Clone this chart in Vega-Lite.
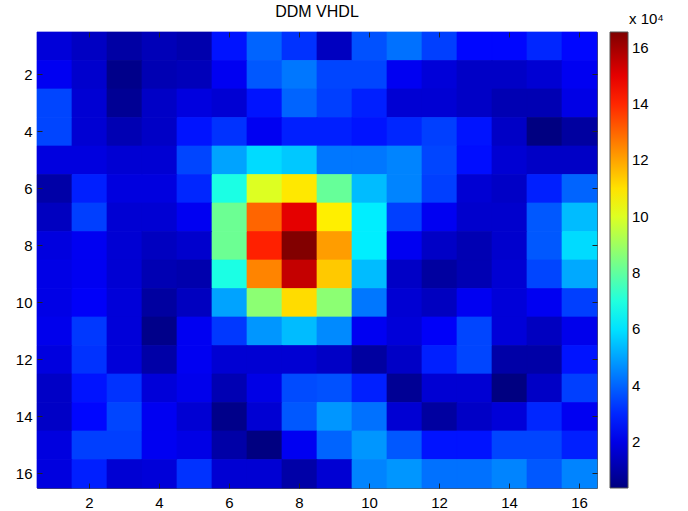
{
"$schema": "https://vega.github.io/schema/vega-lite/v6.json",
"width": 560, "height": 456,
"autosize": {"type": "none"},
"padding": {"left": 37, "top": 32, "right": 91, "bottom": 23},
"background": "white",
"title": {"text": "DDM VHDL", "fontSize": 16, "fontWeight": "normal", "font": "Liberation Sans", "color": "#000000", "offset": 0, "frame": "group", "anchor": "middle", "dy": 8},
"config": {"view": {"stroke": "#555555", "strokeWidth": 1}},
"data": {"values": [
{"r":1,"c":1,"v":18000},{"r":1,"c":2,"v":14500},{"r":1,"c":3,"v":9500},{"r":1,"c":4,"v":12800},{"r":1,"c":5,"v":11000},{"r":1,"c":6,"v":27000},{"r":1,"c":7,"v":40000},{"r":1,"c":8,"v":32000},{"r":1,"c":9,"v":14000},{"r":1,"c":10,"v":37000},{"r":1,"c":11,"v":42000},{"r":1,"c":12,"v":34000},{"r":1,"c":13,"v":25000},{"r":1,"c":14,"v":25000},{"r":1,"c":15,"v":30000},{"r":1,"c":16,"v":25000},
{"r":2,"c":1,"v":22000},{"r":2,"c":2,"v":16000},{"r":2,"c":3,"v":5500},{"r":2,"c":4,"v":12000},{"r":2,"c":5,"v":13000},{"r":2,"c":6,"v":22000},{"r":2,"c":7,"v":38000},{"r":2,"c":8,"v":43000},{"r":2,"c":9,"v":35000},{"r":2,"c":10,"v":35000},{"r":2,"c":11,"v":22000},{"r":2,"c":12,"v":18000},{"r":2,"c":13,"v":15000},{"r":2,"c":14,"v":15000},{"r":2,"c":15,"v":17000},{"r":2,"c":16,"v":22000},
{"r":3,"c":1,"v":35000},{"r":3,"c":2,"v":17000},{"r":3,"c":3,"v":7000},{"r":3,"c":4,"v":15000},{"r":3,"c":5,"v":19000},{"r":3,"c":6,"v":17000},{"r":3,"c":7,"v":27000},{"r":3,"c":8,"v":40000},{"r":3,"c":9,"v":34000},{"r":3,"c":10,"v":29000},{"r":3,"c":11,"v":17000},{"r":3,"c":12,"v":17000},{"r":3,"c":13,"v":15000},{"r":3,"c":14,"v":12000},{"r":3,"c":15,"v":12000},{"r":3,"c":16,"v":20000},
{"r":4,"c":1,"v":35000},{"r":4,"c":2,"v":17000},{"r":4,"c":3,"v":12000},{"r":4,"c":4,"v":15000},{"r":4,"c":5,"v":27000},{"r":4,"c":6,"v":32000},{"r":4,"c":7,"v":22000},{"r":4,"c":8,"v":29000},{"r":4,"c":9,"v":29000},{"r":4,"c":10,"v":27000},{"r":4,"c":11,"v":30000},{"r":4,"c":12,"v":34000},{"r":4,"c":13,"v":27000},{"r":4,"c":14,"v":15000},{"r":4,"c":15,"v":4000},{"r":4,"c":16,"v":9000},
{"r":5,"c":1,"v":19000},{"r":5,"c":2,"v":19000},{"r":5,"c":3,"v":17000},{"r":5,"c":4,"v":17000},{"r":5,"c":5,"v":35000},{"r":5,"c":6,"v":50000},{"r":5,"c":7,"v":59000},{"r":5,"c":8,"v":56000},{"r":5,"c":9,"v":43000},{"r":5,"c":10,"v":43000},{"r":5,"c":11,"v":45000},{"r":5,"c":12,"v":35000},{"r":5,"c":13,"v":26000},{"r":5,"c":14,"v":17000},{"r":5,"c":15,"v":15000},{"r":5,"c":16,"v":15000},
{"r":6,"c":1,"v":10000},{"r":6,"c":2,"v":29000},{"r":6,"c":3,"v":19000},{"r":6,"c":4,"v":19000},{"r":6,"c":5,"v":30000},{"r":6,"c":6,"v":69000},{"r":6,"c":7,"v":100000},{"r":6,"c":8,"v":109000},{"r":6,"c":9,"v":81000},{"r":6,"c":10,"v":54000},{"r":6,"c":11,"v":45000},{"r":6,"c":12,"v":34000},{"r":6,"c":13,"v":17000},{"r":6,"c":14,"v":15000},{"r":6,"c":15,"v":29000},{"r":6,"c":16,"v":40000},
{"r":7,"c":1,"v":14000},{"r":7,"c":2,"v":34000},{"r":7,"c":3,"v":17000},{"r":7,"c":4,"v":17000},{"r":7,"c":5,"v":22000},{"r":7,"c":6,"v":82000},{"r":7,"c":7,"v":130000},{"r":7,"c":8,"v":150000},{"r":7,"c":9,"v":108000},{"r":7,"c":10,"v":62000},{"r":7,"c":11,"v":34000},{"r":7,"c":12,"v":22000},{"r":7,"c":13,"v":16000},{"r":7,"c":14,"v":16000},{"r":7,"c":15,"v":38000},{"r":7,"c":16,"v":54000},
{"r":8,"c":1,"v":19000},{"r":8,"c":2,"v":22000},{"r":8,"c":3,"v":17000},{"r":8,"c":4,"v":14000},{"r":8,"c":5,"v":16000},{"r":8,"c":6,"v":82000},{"r":8,"c":7,"v":141000},{"r":8,"c":8,"v":165000},{"r":8,"c":9,"v":121000},{"r":8,"c":10,"v":62000},{"r":8,"c":11,"v":22000},{"r":8,"c":12,"v":15000},{"r":8,"c":13,"v":12000},{"r":8,"c":14,"v":16000},{"r":8,"c":15,"v":38000},{"r":8,"c":16,"v":59000},
{"r":9,"c":1,"v":20000},{"r":9,"c":2,"v":22000},{"r":9,"c":3,"v":17000},{"r":9,"c":4,"v":12000},{"r":9,"c":5,"v":11000},{"r":9,"c":6,"v":69000},{"r":9,"c":7,"v":125000},{"r":9,"c":8,"v":155000},{"r":9,"c":9,"v":114000},{"r":9,"c":10,"v":54000},{"r":9,"c":11,"v":15000},{"r":9,"c":12,"v":9000},{"r":9,"c":13,"v":12000},{"r":9,"c":14,"v":17000},{"r":9,"c":15,"v":35000},{"r":9,"c":16,"v":51000},
{"r":10,"c":1,"v":20000},{"r":10,"c":2,"v":23000},{"r":10,"c":3,"v":18000},{"r":10,"c":4,"v":9000},{"r":10,"c":5,"v":14000},{"r":10,"c":6,"v":50000},{"r":10,"c":7,"v":87000},{"r":10,"c":8,"v":111000},{"r":10,"c":9,"v":87000},{"r":10,"c":10,"v":43000},{"r":10,"c":11,"v":17000},{"r":10,"c":12,"v":14000},{"r":10,"c":13,"v":22000},{"r":10,"c":14,"v":18000},{"r":10,"c":15,"v":22000},{"r":10,"c":16,"v":34000},
{"r":11,"c":1,"v":21000},{"r":11,"c":2,"v":33000},{"r":11,"c":3,"v":18000},{"r":11,"c":4,"v":5500},{"r":11,"c":5,"v":22000},{"r":11,"c":6,"v":33000},{"r":11,"c":7,"v":48000},{"r":11,"c":8,"v":54000},{"r":11,"c":9,"v":46000},{"r":11,"c":10,"v":22000},{"r":11,"c":11,"v":18000},{"r":11,"c":12,"v":23000},{"r":11,"c":13,"v":35000},{"r":11,"c":14,"v":18000},{"r":11,"c":15,"v":14000},{"r":11,"c":16,"v":21000},
{"r":12,"c":1,"v":19000},{"r":12,"c":2,"v":32000},{"r":12,"c":3,"v":18000},{"r":12,"c":4,"v":10000},{"r":12,"c":5,"v":22000},{"r":12,"c":6,"v":17000},{"r":12,"c":7,"v":17000},{"r":12,"c":8,"v":17000},{"r":12,"c":9,"v":15000},{"r":12,"c":10,"v":9000},{"r":12,"c":11,"v":15000},{"r":12,"c":12,"v":29000},{"r":12,"c":13,"v":35000},{"r":12,"c":14,"v":10000},{"r":12,"c":15,"v":10000},{"r":12,"c":16,"v":27000},
{"r":13,"c":1,"v":15000},{"r":13,"c":2,"v":27000},{"r":13,"c":3,"v":32000},{"r":13,"c":4,"v":18000},{"r":13,"c":5,"v":21000},{"r":13,"c":6,"v":12000},{"r":13,"c":7,"v":20000},{"r":13,"c":8,"v":36000},{"r":13,"c":9,"v":37000},{"r":13,"c":10,"v":29000},{"r":13,"c":11,"v":7000},{"r":13,"c":12,"v":17000},{"r":13,"c":13,"v":17000},{"r":13,"c":14,"v":4000},{"r":13,"c":15,"v":15000},{"r":13,"c":16,"v":34000},
{"r":14,"c":1,"v":15000},{"r":14,"c":2,"v":25000},{"r":14,"c":3,"v":35000},{"r":14,"c":4,"v":22000},{"r":14,"c":5,"v":17000},{"r":14,"c":6,"v":5500},{"r":14,"c":7,"v":17000},{"r":14,"c":8,"v":38000},{"r":14,"c":9,"v":48000},{"r":14,"c":10,"v":42000},{"r":14,"c":11,"v":17000},{"r":14,"c":12,"v":9000},{"r":14,"c":13,"v":15000},{"r":14,"c":14,"v":18000},{"r":14,"c":15,"v":30000},{"r":14,"c":16,"v":22000},
{"r":15,"c":1,"v":19000},{"r":15,"c":2,"v":34000},{"r":15,"c":3,"v":34000},{"r":15,"c":4,"v":22000},{"r":15,"c":5,"v":20000},{"r":15,"c":6,"v":10000},{"r":15,"c":7,"v":4000},{"r":15,"c":8,"v":22000},{"r":15,"c":9,"v":40000},{"r":15,"c":10,"v":48000},{"r":15,"c":11,"v":38000},{"r":15,"c":12,"v":27000},{"r":15,"c":13,"v":27000},{"r":15,"c":14,"v":35000},{"r":15,"c":15,"v":35000},{"r":15,"c":16,"v":29000},
{"r":16,"c":1,"v":19000},{"r":16,"c":2,"v":29000},{"r":16,"c":3,"v":17000},{"r":16,"c":4,"v":18000},{"r":16,"c":5,"v":32000},{"r":16,"c":6,"v":17000},{"r":16,"c":7,"v":17000},{"r":16,"c":8,"v":10000},{"r":16,"c":9,"v":17000},{"r":16,"c":10,"v":45000},{"r":16,"c":11,"v":48000},{"r":16,"c":12,"v":42000},{"r":16,"c":13,"v":42000},{"r":16,"c":14,"v":45000},{"r":16,"c":15,"v":38000},{"r":16,"c":16,"v":45000}
]},
"resolve": {"axis": {"x": "independent", "y": "independent"}, "scale": {"stroke": "independent"}, "legend": {"stroke": "independent"}},
"layer": [
{
"mark": {"type": "rect", "strokeWidth": 0.7},
"encoding": {
"x": {"field": "c", "type": "ordinal", "sort": "ascending",
"scale": {"paddingInner": 0, "paddingOuter": 0},
"axis": {"title": null, "orient": "bottom", "values": [2,4,6,8,10,12,14,16], "labelAngle": 0, "labelFontSize": 15, "labelFont": "Liberation Sans", "labelColor": "#000000", "domain": false, "ticks": true, "tickSize": -5, "tickColor": "#222222", "labelPadding": 12}},
"y": {"field": "r", "type": "ordinal", "sort": "ascending",
"scale": {"paddingInner": 0, "paddingOuter": 0},
"axis": {"title": null, "orient": "left", "values": [2,4,6,8,10,12,14,16], "labelFontSize": 15, "labelFont": "Liberation Sans", "labelColor": "#000000", "domain": false, "ticks": true, "tickSize": -5, "tickColor": "#222222", "labelPadding": 10}},
"stroke": {"field": "v", "type": "quantitative",
"scale": {"type": "linear", "domain": [3700, 24000, 64700, 105400, 146100, 165500], "range": ["#00007f", "#0000ff", "#00ffff", "#ffff00", "#ff0000", "#7f0000"], "interpolate": "rgb"},
"legend": null},
"color": {"field": "v", "type": "quantitative",
"scale": {"type": "linear", "domain": [3700, 24000, 64700, 105400, 146100, 165500], "range": ["#00007f", "#0000ff", "#00ffff", "#ffff00", "#ff0000", "#7f0000"], "interpolate": "rgb"},
"legend": {"type": "gradient", "title": "x 10⁴", "titleFontSize": 15, "titleFont": "Liberation Sans", "titleFontWeight": "normal", "titleColor": "#000000", "titleAnchor": "middle", "titleAlign": "left", "titlePadding": 5,
"orient": "none", "legendX": 573, "legendY": -20, "gradientLength": 456, "gradientThickness": 18, "gradientStrokeColor": "#555555", "gradientStrokeWidth": 1,
"values": [20000, 40000, 60000, 80000, 100000, 120000, 140000, 160000], "labelExpr": "datum.value / 10000", "labelFontSize": 15, "labelFont": "Liberation Sans", "labelColor": "#000000", "labelOverlap": false, "labelOffset": 4}}
}
},
{
"mark": {"type": "rect", "opacity": 0},
"encoding": {
"x": {"field": "c", "type": "ordinal", "sort": "ascending",
"axis": {"title": null, "orient": "top", "values": [2,4,6,8,10,12,14,16], "labels": false, "domain": false, "ticks": true, "tickSize": -5, "tickColor": "#222222"}},
"y": {"field": "r", "type": "ordinal", "sort": "ascending",
"axis": {"title": null, "orient": "right", "values": [2,4,6,8,10,12,14,16], "labels": false, "domain": false, "ticks": true, "tickSize": -5, "tickColor": "#222222"}}
}
}
]
}
